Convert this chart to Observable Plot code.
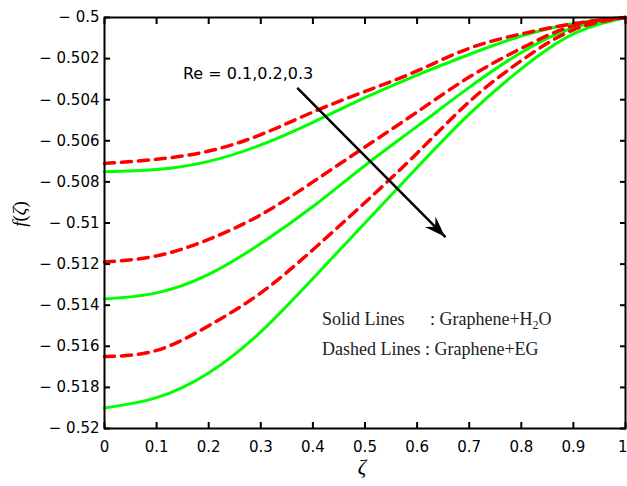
<!DOCTYPE html>
<html><head><meta charset="utf-8">
<script src="https://cdn.jsdelivr.net/npm/d3@7"></script>
<script src="https://cdn.jsdelivr.net/npm/@observablehq/plot@0.6"></script>
<style>body{margin:0;background:#fff}</style>
</head><body><div id="chart"></div>
<script>
// ζ sample positions
const zeta = [0, 0.1, 0.2, 0.3, 0.4, 0.5, 0.6, 0.7, 0.8, 0.9, 1];
// Solid lines: Graphene+H2O
const h2o_Re01 = [-0.5075, -0.5074, -0.5070, -0.5062, -0.5051, -0.5039, -0.5028, -0.5018, -0.5009, -0.5003, -0.5];
const h2o_Re02 = [-0.5137, -0.5134, -0.5125, -0.5110, -0.5092, -0.5072, -0.5053, -0.5034, -0.5017, -0.5005, -0.5];
const h2o_Re03 = [-0.5190, -0.5185, -0.5173, -0.5153, -0.5127, -0.5100, -0.5073, -0.5047, -0.5025, -0.5008, -0.5];
// Dashed lines: Graphene+EG
const eg_Re01 = [-0.5071, -0.5069, -0.5065, -0.5057, -0.5046, -0.5036, -0.5026, -0.5015, -0.5008, -0.5003, -0.5];
const eg_Re02 = [-0.5119, -0.5116, -0.5108, -0.5096, -0.5080, -0.5063, -0.5046, -0.5029, -0.5015, -0.5004, -0.5];
const eg_Re03 = [-0.5165, -0.5162, -0.5150, -0.5134, -0.5113, -0.5090, -0.5066, -0.5041, -0.5021, -0.5006, -0.5];

const xTicks = [0, 0.1, 0.2, 0.3, 0.4, 0.5, 0.6, 0.7, 0.8, 0.9, 1];
const yTicks = [-0.52, -0.518, -0.516, -0.514, -0.512, -0.51, -0.508, -0.506, -0.504, -0.502, -0.5];
const xTickLabels = ["0", "0.1", "0.2", "0.3", "0.4", "0.5", "0.6", "0.7", "0.8", "0.9", "1"];
const yTickLabels = ["− 0.52", "− 0.518", "− 0.516", "− 0.514", "− 0.512", "− 0.51", "− 0.508", "− 0.506", "− 0.504", "− 0.502", "− 0.5"];

// annotation arrow (data coordinates)
const arrowFrom = {x: 0.370, y: -0.50343};
const arrowTo = {x: 0.6545, y: -0.51069};

function rows(values, re) { return zeta.map((z, i) => ({zeta: z, f: values[i], Re: re})); }
const solidRows = [...rows(h2o_Re01, 0.1), ...rows(h2o_Re02, 0.2), ...rows(h2o_Re03, 0.3)];
const dashedRows = [...rows(eg_Re01, 0.1), ...rows(eg_Re02, 0.2), ...rows(eg_Re03, 0.3)];

const lastX = xTicks[xTicks.length - 1];

const plot = Plot.plot({
  width: 627, height: 486,
  marginLeft: 104, marginRight: 2, marginTop: 17, marginBottom: 58,
  style: {fontFamily: "DejaVu Sans", fontSize: "15px", background: "white", color: "black"},
  x: {domain: [0, 1]},
  y: {domain: [-0.52, -0.5]},
  marks: [
    Plot.line(solidRows, {x: "zeta", y: "f", z: "Re", stroke: "#00ff00", strokeWidth: 3, curve: "natural"}),
    Plot.line(dashedRows, {x: "zeta", y: "f", z: "Re", stroke: "#ff0000", strokeWidth: 3.5, strokeDasharray: "10,7", curve: "natural"}),
    Plot.link([0], {x1: () => arrowFrom.x, y1: () => arrowFrom.y, x2: () => arrowTo.x, y2: () => arrowTo.y, stroke: "black", strokeWidth: 2.5}),
    Plot.frame({stroke: "black", strokeWidth: 2}),
    Plot.axisX(xTicks, {anchor: "bottom", tickSize: -6, strokeWidth: 2, tickFormat: () => "", label: null}),
    Plot.axisX(xTicks.slice(0, -1), {anchor: "bottom", tickSize: 0, tickPadding: 13, tickFormat: d => xTickLabels[xTicks.indexOf(d)], label: null}),
    Plot.text([lastX], {x: d => d, frameAnchor: "bottom", textAnchor: "end", lineAnchor: "top", dx: 2, dy: 13, text: d => xTickLabels[xTicks.indexOf(d)]}),
    Plot.axisX(xTicks, {anchor: "top", tickSize: -6, strokeWidth: 2, tickFormat: () => "", label: null}),
    Plot.axisY(yTicks, {anchor: "left", tickSize: -6, tickPadding: 11, strokeWidth: 2, tickFormat: d => yTickLabels[yTicks.indexOf(d)], label: null}),
    Plot.axisY(yTicks, {anchor: "right", tickSize: -6, strokeWidth: 2, tickFormat: () => "", label: null})
  ]
});
document.getElementById("chart").appendChild(plot);

const sx = plot.scale("x"), sy = plot.scale("y");
const svg = d3.select(plot);

// arrow head
{
  const x1 = sx.apply(arrowFrom.x), y1 = sy.apply(arrowFrom.y);
  const x2 = sx.apply(arrowTo.x), y2 = sy.apply(arrowTo.y);
  const a = Math.atan2(y2 - y1, x2 - x1);
  const L = 21, W = 7.5, N = 14;
  const pt = (l, w) => [x2 - l * Math.cos(a) - w * Math.sin(a), y2 - l * Math.sin(a) + w * Math.cos(a)];
  const p = [[x2, y2], pt(L, W), pt(N, 0), pt(L, -W)];
  svg.append("path").attr("d", "M" + p.map(q => q.join(",")).join("L") + "Z").attr("fill", "black");
}

// Re label
svg.append("text").attr("x", sx.apply(0.1516)).attr("y", sy.apply(-0.5030)).attr("text-anchor", "start")
  .attr("font-family", "DejaVu Sans").attr("font-size", 16).attr("fill", "black")
  .text("Re = 0.1,0.2,0.3");

// legend texts
const serif = "'Liberation Serif', 'Times New Roman', serif";
svg.append("text").attr("x", sx.apply(0.4184)).attr("y", sy.apply(-0.51498)).attr("text-anchor", "start")
  .attr("font-family", serif).attr("font-size", 18).attr("fill", "#222").text("Solid Lines");
{
  const t = svg.append("text").attr("x", sx.apply(0.6257)).attr("y", sy.apply(-0.51498)).attr("text-anchor", "start")
    .attr("font-family", serif).attr("font-size", 18).attr("fill", "#222");
  t.append("tspan").text(": Graphene+H");
  t.append("tspan").attr("font-size", 12).attr("dy", 4).text("2");
  t.append("tspan").attr("dy", -4).text("O");
}
svg.append("text").attr("x", sx.apply(0.4184)).attr("y", sy.apply(-0.51644)).attr("text-anchor", "start")
  .attr("font-family", serif).attr("font-size", 18).attr("fill", "#222").text("Dashed Lines : Graphene+EG");

// axis titles
svg.append("text").attr("x", 362).attr("y", 474).attr("text-anchor", "middle")
  .attr("font-family", serif).attr("font-style", "italic").attr("font-size", 21).attr("fill", "black").text("ζ");
{
  const t = svg.append("text").attr("transform", "translate(26,214) rotate(-90)").attr("text-anchor", "middle")
    .attr("font-family", serif).attr("font-size", 19).attr("fill", "black");
  t.append("tspan").attr("font-style", "italic").text("f");
  t.append("tspan").text("(");
  t.append("tspan").attr("font-style", "italic").text("ζ");
  t.append("tspan").text(")");
}
</script>
</body></html>
